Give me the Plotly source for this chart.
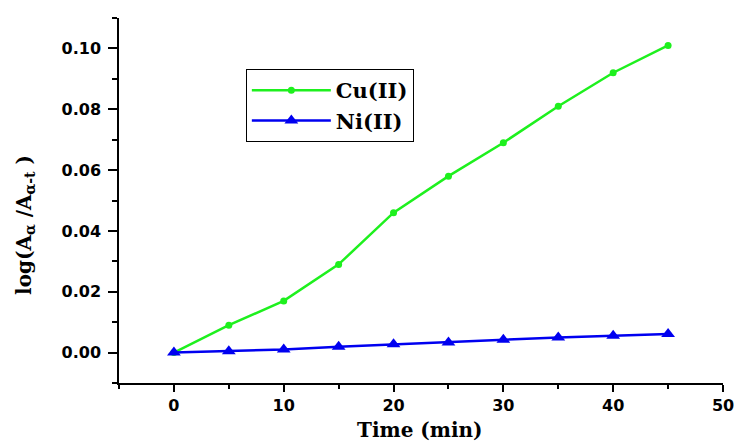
import plotly.graph_objects as go

time_min = [0, 5, 10, 15, 20, 25, 30, 35, 40, 45]
cu_values = [0.0, 0.009, 0.017, 0.029, 0.046, 0.058, 0.069, 0.081, 0.092, 0.101]
ni_values = [0.0, 0.0004, 0.001, 0.0019, 0.0027, 0.0033, 0.0042, 0.005, 0.0055, 0.0061]

x_ticks = [0, 10, 20, 30, 40, 50]
y_ticks = [0.00, 0.02, 0.04, 0.06, 0.08, 0.10]

GREEN = "#1ef01e"
BLUE = "#0000f0"

fig = go.Figure()
fig.add_trace(go.Scatter(
    x=time_min, y=cu_values, mode="lines+markers", name="Cu(II)",
    line=dict(color=GREEN, width=2.5),
    marker=dict(symbol="circle", size=7, color=GREEN),
))
fig.add_trace(go.Scatter(
    x=time_min, y=ni_values, mode="lines+markers", name="Ni(II)",
    line=dict(color=BLUE, width=2.5),
    marker=dict(symbol="triangle-up", size=12, color=BLUE),
))

tick_font = dict(family="DejaVu Sans", size=16, color="black", weight="bold")
serif_font = dict(family="DejaVu Serif", size=20, color="black", weight="bold")

fig.update_layout(
    width=736, height=443,
    margin=dict(l=119, r=13, t=18, b=60),
    paper_bgcolor="white", plot_bgcolor="white",
    showlegend=True,
    legend=dict(
        x=0.21, y=0.86, xanchor="left", yanchor="top",
        bordercolor="black", borderwidth=1, bgcolor="white",
        font=dict(family="DejaVu Serif", size=21, color="black", weight="bold"),
        itemwidth=79, tracegroupgap=0,
    ),
    xaxis=dict(
        range=[-5, 50], tickvals=x_ticks, showgrid=False, zeroline=False,
        showline=True, linecolor="black", linewidth=1.5, automargin=False,
        ticks="outside", ticklen=7, tickwidth=1.5, tickcolor="black",
        tickfont=tick_font,
        minor=dict(dtick=5, tick0=0, ticks="outside", ticklen=4, tickwidth=1.5,
                   tickcolor="black", showgrid=False),
    ),
    yaxis=dict(
        range=[-0.01, 0.11], tickvals=y_ticks, tickformat=".2f",
        showgrid=False, zeroline=False, automargin=False,
        showline=True, linecolor="black", linewidth=1.5,
        ticks="outside", ticklen=9, tickwidth=1.5, tickcolor="black",
        ticklabelstandoff=4,
        tickfont=tick_font,
        minor=dict(dtick=0.01, tick0=0, ticks="outside", ticklen=5, tickwidth=1.5,
                   tickcolor="black", showgrid=False),
    ),
    annotations=[
        dict(text="Time (min)", xref="paper", yref="paper", x=0.498, y=-0.128,
             xanchor="center", yanchor="middle", showarrow=False, font=serif_font),
        dict(text="log(A<sub>α</sub> /A<sub>α-t</sub> )", xref="paper", yref="paper",
             x=-0.1556, y=0.433, xanchor="center", yanchor="middle", textangle=-90,
             showarrow=False, font=serif_font),
    ],
)

fig.write_html(
    "out.html",
    config={"displayModeBar": False},
    post_script="document.body.style.margin='0px';document.body.style.overflow='hidden';",
)
